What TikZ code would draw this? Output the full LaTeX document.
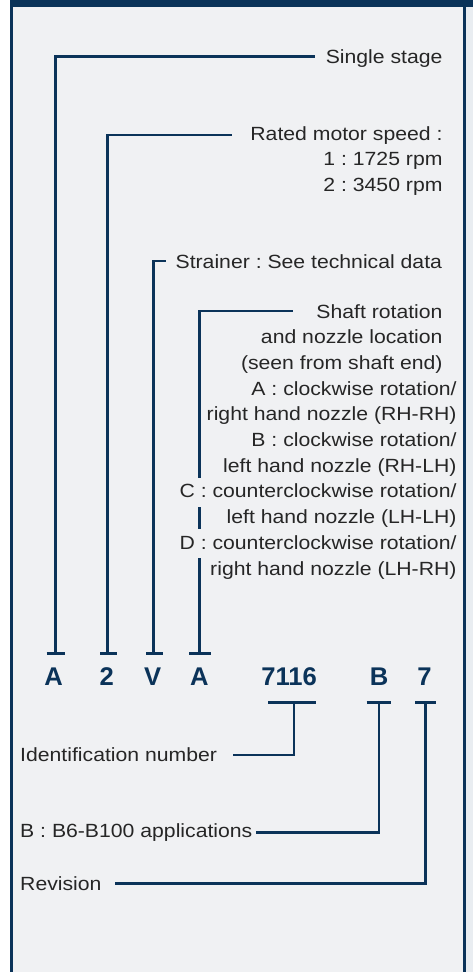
\documentclass[tikz,border=0pt]{standalone}
\usepackage{fontspec}
\setmainfont[FakeStretch=1.11]{Liberation Sans}
\newfontfamily\codefont{Liberation Sans}
\definecolor{navy}{HTML}{0B3359}
\definecolor{bgc}{HTML}{F0F1F3}
\definecolor{txt}{HTML}{262626}
\definecolor{rstrip}{HTML}{E9EDF1}
\frenchspacing
\begin{document}
\frenchspacing
\begin{tikzpicture}[x=1pt,y=-1pt]
\tikzset{
  lbl/.style={font=\fontsize{19.1}{25.7}\selectfont\frenchspacing, text=txt, fill=bgc,
    inner xsep=0pt, inner ysep=3pt, text height=17pt, text depth=6pt},
  code/.style={font=\codefont\fontsize{25.6}{30}\selectfont\bfseries, text=navy,
    inner sep=0pt, anchor=base},
  conn/.style={draw=navy, line width=2.6pt},
  tbar/.style={draw=navy, line width=2.6pt},
}
\useasboundingbox (0,0) rectangle (473,972);
% frame
\fill[white] (0,0) rectangle (473,972);
\fill[rstrip] (464,0) rectangle (473,972);
\fill[bgc] (11,6) rectangle (464,972);
\fill[navy] (10,0) rectangle (473,7);
\draw[navy, line width=2.7pt] (11.35,0) -- (11.35,972);
\draw[navy, line width=2.7pt] (464.2,0) -- (464.2,972);

% bar coordinates and line ends
\coordinate (tA) at (55.7,653.3);
\coordinate (t2) at (107.3,653.3);
\coordinate (tV) at (153.7,653.3);
\coordinate (tR) at (199.3,653.3);
\coordinate (bN) at (294,702.7);
\coordinate (bB) at (379,702.7);
\coordinate (b7) at (425.7,702.7);
\coordinate (eSS) at (315,56.7);
\coordinate (eRM) at (231.7,135);
\coordinate (eST) at (166,261);
\coordinate (eSH) at (293,311);
\coordinate (eID) at (233.3,755);
\coordinate (eBA) at (256,832.3);
\coordinate (eRV) at (115,883.3);

% connectors
\draw[conn] (tA) |- (eSS);
\draw[conn] (t2) |- (eRM);
\draw[conn] (tV) |- (eST);
\draw[conn] (tR) |- (eSH);
\draw[conn] (bN) |- (eID);
\draw[conn] (bB) |- (eBA);
\draw[conn] (b7) |- (eRV);

% T bars
\draw[tbar] (46.7,653.3) -- (65,653.3);
\draw[tbar] (100,653.3) -- (117.3,653.3);
\draw[tbar] (146,653.3) -- (162.7,653.3);
\draw[tbar] (189,653.3) -- (210.7,653.3);
\draw[tbar] (268.3,702.7) -- (315.7,702.7);
\draw[tbar] (366.7,702.7) -- (390.7,702.7);
\draw[tbar] (415,702.7) -- (435.7,702.7);

% labels top
\node[lbl, anchor=base east] (ss) at (442.7,63.3) {Single stage};
\node[lbl, anchor=base east] (rm1) at (442.7,140) {Rated motor speed :};
\node[lbl, anchor=base east] (rm2) at (442.7,165.7) {1 : 1725 rpm};
\node[lbl, anchor=base east] (rm3) at (442.7,191.4) {2 : 3450 rpm};
\node[lbl, anchor=base east] (st) at (442.2,268.3) {Strainer : See technical data};
\node[lbl, anchor=base east] (sh1) at (442.7,318) {Shaft rotation};
\node[lbl, anchor=base east] (sh2) at (442.7,343.7) {and nozzle location};
\node[lbl, anchor=base east] (sh3) at (442.7,369.4) {(seen from shaft end)};
\node[lbl, anchor=base east] (sh4) at (456.7,395.1) {A : clockwise rotation/};
\node[lbl, anchor=base east] (sh5) at (456.7,420.8) {right hand nozzle (RH-RH)};
\node[lbl, anchor=base east] (sh6) at (456.7,446.5) {B : clockwise rotation/};
\node[lbl, anchor=base east] (sh7) at (456.7,472.2) {left hand nozzle (RH-LH)};
\node[lbl, anchor=base east] (sh8) at (456.7,497.9) {C : counterclockwise rotation/};
\node[lbl, anchor=base east] (sh9) at (456.7,523.6) {left hand nozzle (LH-LH)};
\node[lbl, anchor=base east] (sh10) at (456.7,549.3) {D : counterclockwise rotation/};
\node[lbl, anchor=base east] (sh11) at (456.7,575) {right hand nozzle (LH-RH)};

% code letters
\node[code] (cA) at (53.5,685) {A};
\node[code] (c2) at (106.7,685) {2};
\node[code] (cV) at (152.7,685) {V};
\node[code] (cR) at (199.3,685) {A};
\node[code] (cN) at (289.2,685) {7116};
\node[code] (cB) at (379.2,685) {B};
\node[code] (c7) at (424.5,685) {7};

% labels bottom
\node[lbl, anchor=base west] (id) at (20,761.7) {Identification number};
\node[lbl, anchor=base west] (ba) at (20,837.3) {B : B6-B100 applications};
\node[lbl, anchor=base west] (rv) at (20,890) {Revision};
\end{tikzpicture}
\end{document}
